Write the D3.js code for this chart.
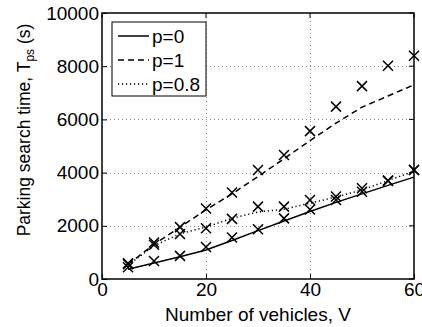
<!DOCTYPE html>
<html>
<head>
<meta charset="utf-8">
<script src="https://cdn.jsdelivr.net/npm/d3@7"></script>
<style>
  html, body { margin: 0; padding: 0; background: #fff; }
  svg text { font-family: "Liberation Sans", Arial, Helvetica, sans-serif; fill: #000; }
</style>
</head>
<body>
<svg id="chart" width="422" height="327"></svg>
<script>
// Number of vehicles
const vehicles = [5, 10, 15, 20, 25, 30, 35, 40, 45, 50, 55, 60];

// Analytical curves (lines)
const modelP0  = [370, 600, 840, 1090, 1450, 1820, 2180, 2540, 2880, 3200, 3520, 3830];
const modelP1  = [550, 1300, 1950, 2600, 3200, 3850, 4520, 5200, 5860, 6460, 6880, 7300];
const modelP08 = [520, 1250, 1700, 1950, 2280, 2520, 2620, 2850, 3080, 3350, 3700, 4050];

// Simulation results (x markers)
const simP0  = [440, 680, 870, 1200, 1560, 1870, 2280, 2610, 2970, 3280, 3690, 4100];
const simP1  = [590, 1370, 1950, 2650, 3250, 4100, 4660, 5560, 6480, 7250, 8020, 8390];
const simP08 = [560, 1290, 1690, 1910, 2260, 2720, 2720, 2970, 3100, 3410, 3700, 4100];

const xTicks = [0, 20, 40, 60];
const yTicks = [0, 2000, 4000, 6000, 8000, 10000];

const seriesNames = ["p=0", "p=1", "p=0.8"];
const dashes = [null, "6,4", "1.2,2.8"];

const svg = d3.select("#chart");
const mLeft = 102, mRight = 414, mTop = 13, mBottom = 279;

const x = d3.scaleLinear().domain([0, 60]).range([mLeft, mRight]);
const y = d3.scaleLinear().domain([0, 10000]).range([mBottom, mTop]);

// grid
const grid = svg.append("g").attr("stroke", "#888").attr("stroke-width", 1)
  .attr("stroke-dasharray", "1,3");
grid.selectAll("line.gx").data(xTicks.filter(t => t > 0 && t < 60)).join("line")
  .attr("x1", d => Math.round(x(d)) + 0.5).attr("x2", d => Math.round(x(d)) + 0.5)
  .attr("y1", mTop).attr("y2", mBottom);
grid.selectAll("line.gy").data(yTicks.filter(t => t > 0 && t < 10000)).join("line")
  .attr("y1", d => Math.round(y(d)) + 0.5).attr("y2", d => Math.round(y(d)) + 0.5)
  .attr("x1", mLeft).attr("x2", mRight);

// axes with inward ticks
const fontSize = 19;
const xAxis = d3.axisBottom(x).tickValues(xTicks).tickFormat(d3.format("d"))
  .tickSizeInner(-5).tickSizeOuter(0).tickPadding(4);
const gx = svg.append("g").attr("transform", `translate(0,${mBottom})`).call(xAxis);
gx.select(".domain").remove();
gx.selectAll("text").attr("font-size", fontSize).attr("font-family", "Liberation Sans, Arial, sans-serif").attr("fill", "#000");
gx.selectAll("line").attr("stroke", "#000");

const yAxis = d3.axisLeft(y).tickValues(yTicks).tickFormat(d3.format("d"))
  .tickSizeInner(-5).tickSizeOuter(0).tickPadding(3);
const gy = svg.append("g").attr("transform", `translate(${mLeft},0)`).call(yAxis);
gy.select(".domain").remove();
gy.selectAll("text").attr("font-size", fontSize).attr("font-family", "Liberation Sans, Arial, sans-serif").attr("fill", "#000");
gy.selectAll("line").attr("stroke", "#000");

// mirrored ticks on top and right
svg.append("g").selectAll("line").data(xTicks).join("line")
  .attr("x1", d => x(d)).attr("x2", d => x(d)).attr("y1", mTop).attr("y2", mTop + 5).attr("stroke", "#000");
svg.append("g").selectAll("line").data(yTicks).join("line")
  .attr("y1", d => y(d)).attr("y2", d => y(d)).attr("x1", mRight).attr("x2", mRight - 5).attr("stroke", "#000");

// frame
svg.append("rect").attr("x", mLeft).attr("y", mTop).attr("width", mRight - mLeft).attr("height", mBottom - mTop)
  .attr("fill", "none").attr("stroke", "#000").attr("stroke-width", 1.5);

// lines
const models = [modelP0, modelP1, modelP08];
const line = d3.line().x(d => x(d[0])).y(d => y(d[1]));
models.forEach((vals, i) => {
  svg.append("path")
    .attr("d", line(vehicles.map((v, j) => [v, vals[j]])))
    .attr("fill", "none").attr("stroke", "#000").attr("stroke-width", 1.5)
    .attr("stroke-dasharray", dashes[i]);
});

// x markers
const sims = [simP0, simP1, simP08];
const ms = 5;
sims.forEach(vals => {
  const g = svg.append("g").attr("stroke", "#000").attr("stroke-width", 1.5);
  vehicles.forEach((v, j) => {
    const cx = x(v), cy = y(vals[j]);
    g.append("path").attr("d", `M${cx - ms},${cy - ms}L${cx + ms},${cy + ms}M${cx - ms},${cy + ms}L${cx + ms},${cy - ms}`);
  });
});

// axis labels
svg.append("text").attr("x", (mLeft + mRight) / 2 + 0).attr("y", 321).attr("text-anchor", "middle")
  .attr("font-size", fontSize).text("Number of vehicles, V");

const yl = svg.append("text").attr("transform", "translate(30,130) rotate(-90)")
  .attr("text-anchor", "middle").attr("font-size", 17.5);
yl.append("tspan").text("Parking search time, T");
yl.append("tspan").attr("font-size", 12).attr("dy", 4).text("ps");
yl.append("tspan").attr("dy", -4).text(" (s)");

// legend
const lg = svg.append("g");
lg.append("rect").attr("x", 112).attr("y", 22).attr("width", 94).attr("height", 74)
  .attr("fill", "#fff").attr("stroke", "#000").attr("stroke-width", 1);
const rowY = [36, 60, 84];
seriesNames.forEach((name, i) => {
  lg.append("line").attr("x1", 118).attr("x2", 149).attr("y1", rowY[i]).attr("y2", rowY[i])
    .attr("stroke", "#000").attr("stroke-width", 1.5).attr("stroke-dasharray", dashes[i]);
  lg.append("text").attr("x", 152).attr("y", rowY[i] + 7).attr("font-size", fontSize).text(name);
});
</script>
</body>
</html>
